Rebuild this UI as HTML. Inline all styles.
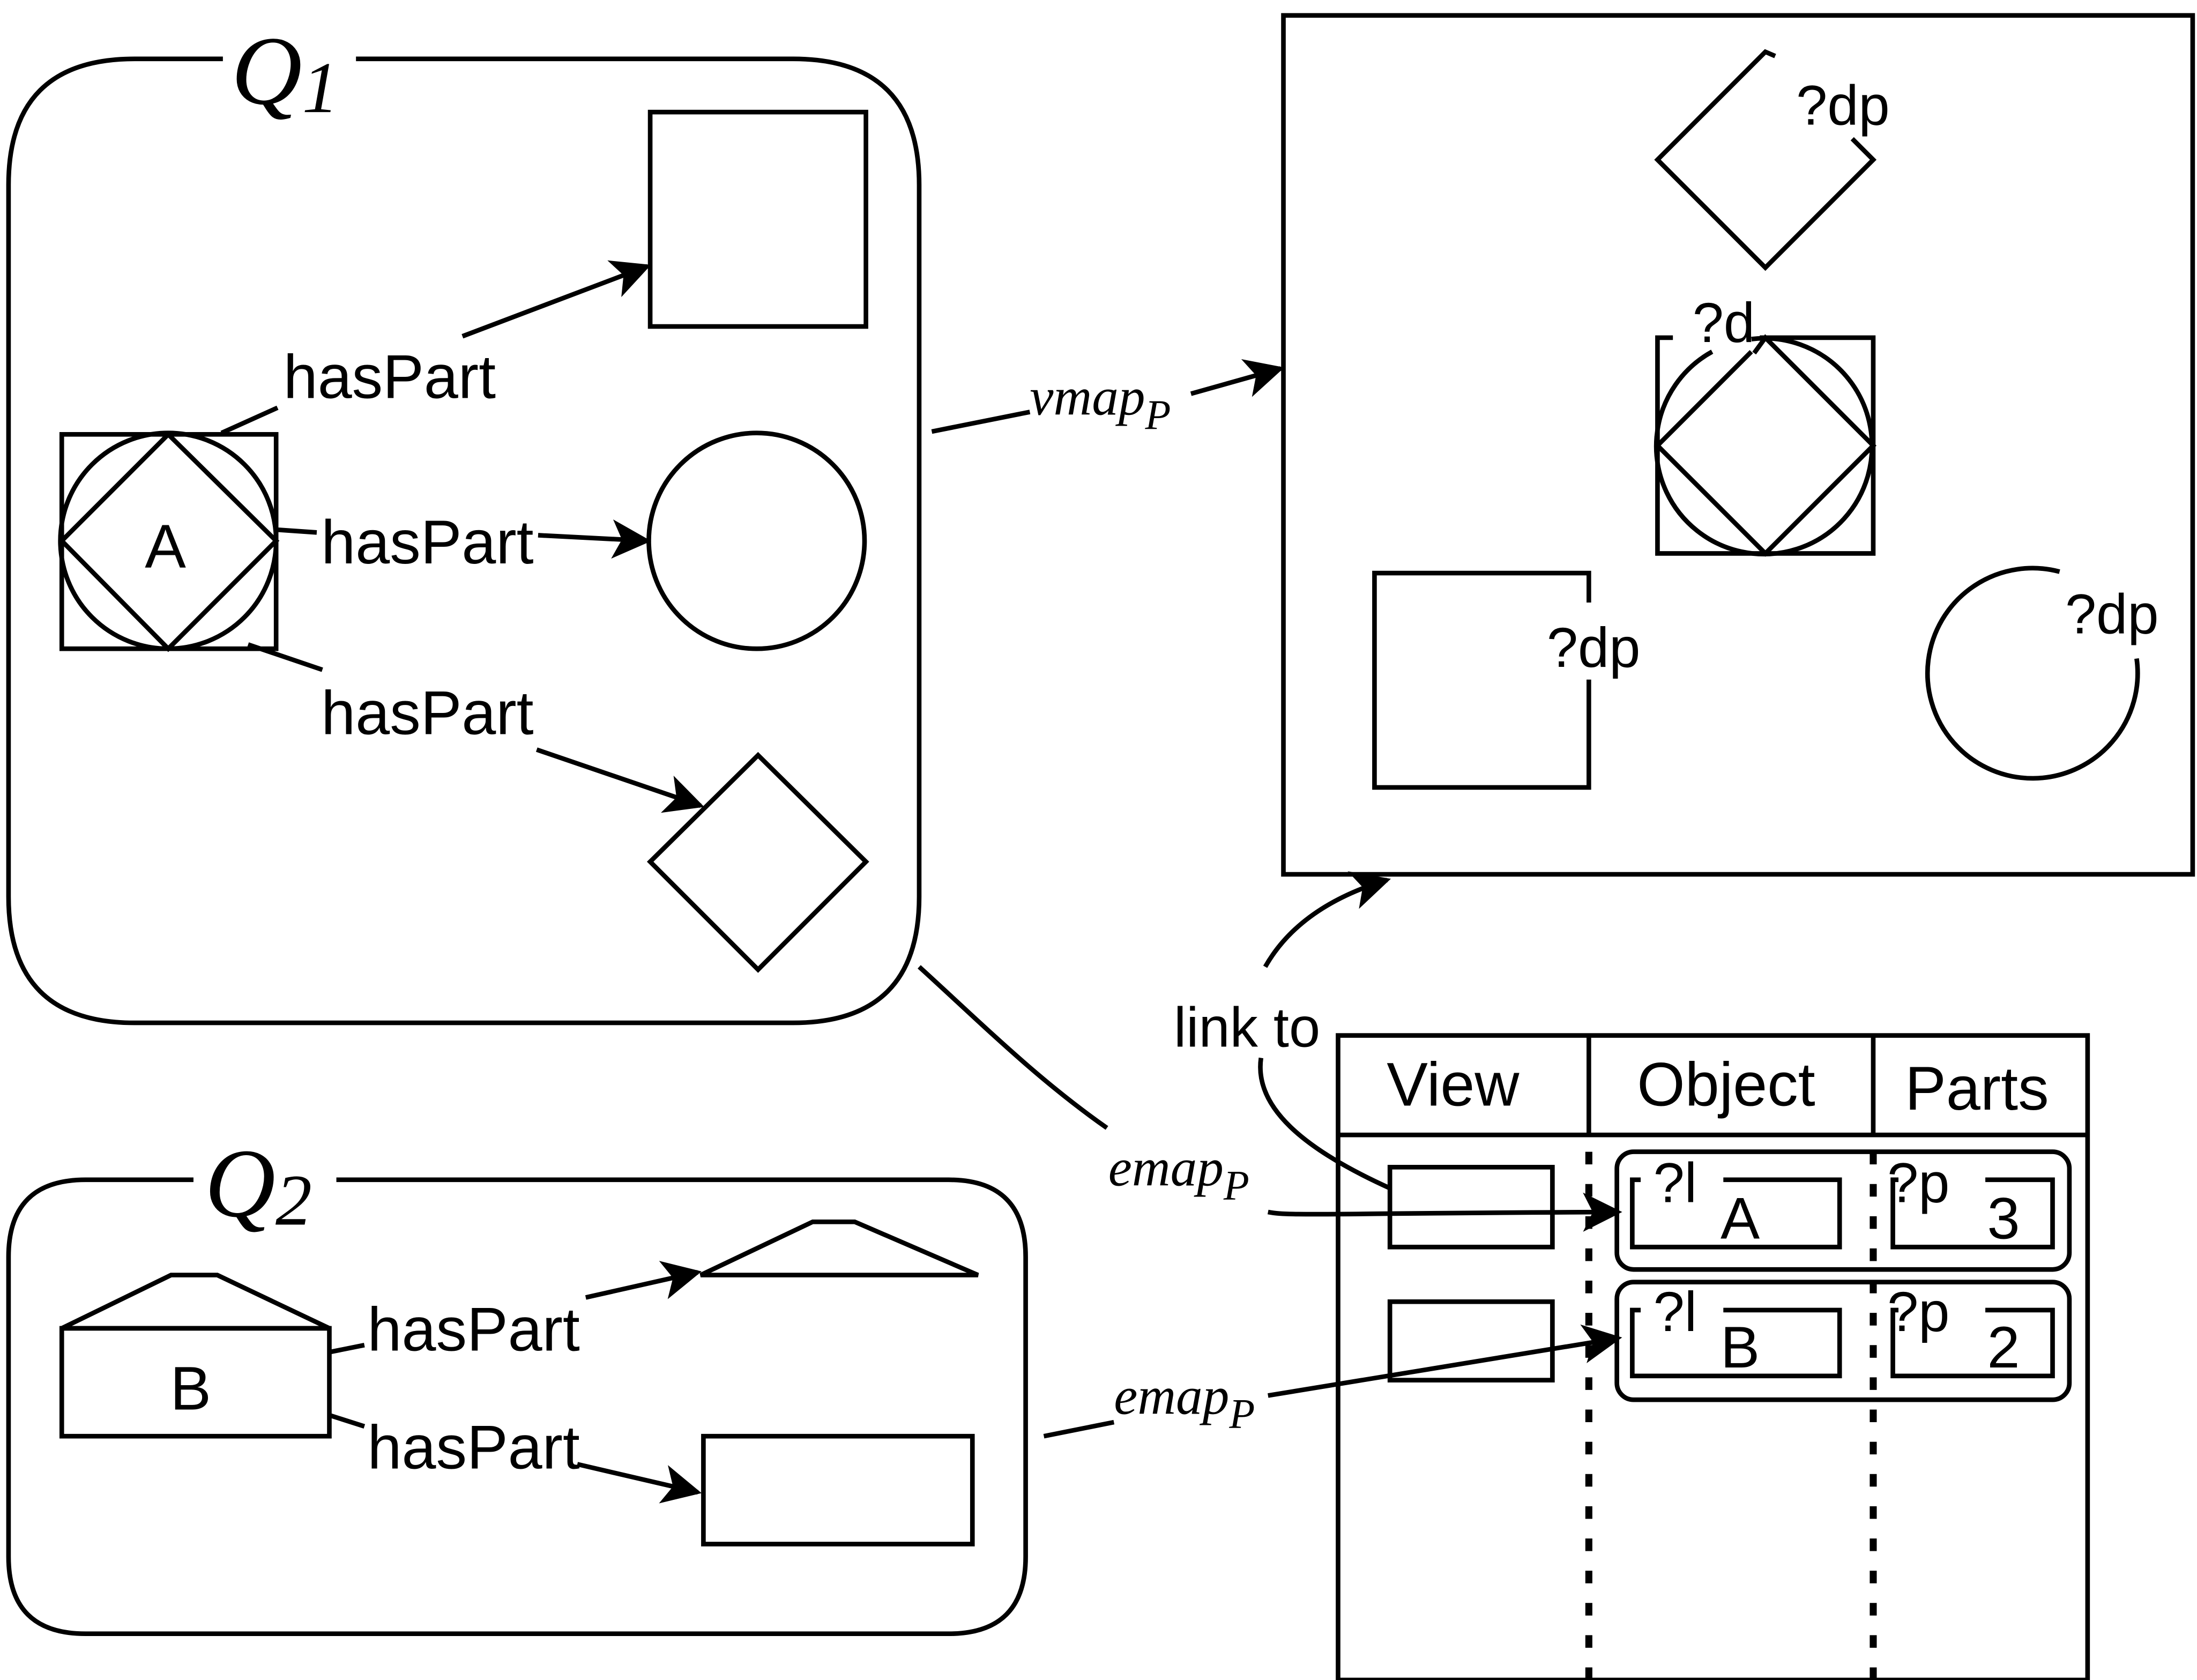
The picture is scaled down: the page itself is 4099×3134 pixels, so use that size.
<!DOCTYPE html>
<html><head><meta charset="utf-8"><style>html,body{margin:0;padding:0;background:#fff}svg{display:block}</style></head>
<body>
<svg width="4099" height="3134" viewBox="0 0 1568 1199" xmlns="http://www.w3.org/2000/svg" font-family="Liberation Sans, sans-serif">
<defs>
<marker id="ab" viewBox="0 0 10 10" refX="9" refY="5" markerWidth="28" markerHeight="28" markerUnits="userSpaceOnUse" orient="auto">
<path d="M0,0 L10,5 L0,10 L2.5,5 Z" fill="#000"/></marker>
</defs>
<g fill="none" stroke="#000" stroke-width="3.3">
<path d="M159,42 H96 Q6,42 6,132 V640 Q6,730 96,730 H566 Q656,730 656,640 V132 Q656,42 566,42 H254"/>
<rect x="464" y="80" width="154" height="153"/>
<circle cx="540" cy="386" r="77"/>
<polygon points="541,539 618,615 541,692 464,615"/>
<rect x="44" y="310" width="153" height="153"/>
<circle cx="120" cy="386" r="77"/>
<polygon points="120,310 197,386 120,463 44,386"/>
<line x1="158" y1="309" x2="198" y2="291"/>
<line x1="330" y1="240" x2="462" y2="190" marker-end="url(#ab)"/>
<line x1="197" y1="378" x2="226" y2="380"/>
<line x1="384" y1="382" x2="462" y2="386" marker-end="url(#ab)"/>
<line x1="177" y1="460" x2="230" y2="478"/>
<line x1="383" y1="535" x2="500" y2="575" marker-end="url(#ab)"/>
<line x1="665" y1="308" x2="735" y2="294"/>
<line x1="850" y1="281" x2="914" y2="263" marker-end="url(#ab)"/>
<rect x="916" y="11" width="649" height="613"/>
<polyline points="1267,40 1260,37 1183,114 1260,191 1337,114 1322,99"/>
<polyline points="1194,241 1183,241 1183,395 1337,395 1337,241 1256,241"/>
<path d="M1250,242 A77,77 0 1 1 1222,251"/>
<polyline points="1250,251 1183,318 1260,395 1337,318 1260,241 1252,252"/>
<polyline points="1134,430 1134,409 981,409 981,562 1134,562 1134,485"/>
<path d="M1470,408 A75,75 0 1 0 1525,470"/>
<path d="M992,848 C930,820 895,790 900,755"/>
<path d="M903,690 C920,660 950,640 990,628" marker-end="url(#ab)"/>
<rect x="955" y="739" width="535" height="460"/>
<line x1="955" y1="810" x2="1490" y2="810"/>
<line x1="1134" y1="739" x2="1134" y2="810"/>
<line x1="1337" y1="739" x2="1337" y2="810"/>
<line x1="1134" y1="822" x2="1134" y2="1199" stroke-width="5" stroke-dasharray="9,14"/>
<line x1="1337" y1="822" x2="1337" y2="1199" stroke-width="5" stroke-dasharray="9,14"/>
<rect x="992" y="833" width="116" height="57"/>
<rect x="992" y="929" width="116" height="56"/>
<rect x="1154" y="822" width="323" height="84" rx="12"/>
<rect x="1154" y="915" width="323" height="84" rx="12"/>
<polyline points="1171,842 1165,842 1165,890 1313,890 1313,842 1230,842"/>
<polyline points="1355,842 1351,842 1351,890 1465,890 1465,842 1417,842"/>
<polyline points="1171,935 1165,935 1165,982 1313,982 1313,935 1230,935"/>
<polyline points="1355,935 1351,935 1351,982 1465,982 1465,935 1417,935"/>
<path d="M656,690 C700,730 740,770 790,805"/>
<path d="M905,865 C920,868 940,866 1155,865" marker-end="url(#ab)"/>
<path d="M138,842 H61 Q6,842 6,897 V1111 Q6,1166 61,1166 H677 Q732,1166 732,1111 V897 Q732,842 677,842 H240"/>
<rect x="44" y="948" width="191" height="77"/>
<polygon points="44,948 122,910 155,910 235,948"/>
<polygon points="500,910 580,872 610,872 698,910"/>
<rect x="502" y="1025" width="192" height="77"/>
<line x1="235" y1="965" x2="260" y2="960"/>
<line x1="418" y1="926" x2="498" y2="908" marker-end="url(#ab)"/>
<line x1="235" y1="1010" x2="260" y2="1018"/>
<line x1="412" y1="1045" x2="498" y2="1065" marker-end="url(#ab)"/>
<line x1="745" y1="1025" x2="795" y2="1015"/>
<line x1="905" y1="996" x2="1155" y2="955" marker-end="url(#ab)"/>
</g>
<g fill="#000" font-size="44">
<text x="165" y="74" font-family="Liberation Serif, serif" font-style="italic" font-size="70">Q<tspan font-size="52" dy="6">1</tspan></text>
<text x="146" y="868" font-family="Liberation Serif, serif" font-style="italic" font-size="70">Q<tspan font-size="52" dy="6">2</tspan></text>
<text x="118" y="405" text-anchor="middle">A</text>
<text x="136" y="1006" text-anchor="middle">B</text>
<text x="278" y="284" text-anchor="middle">hasPart</text>
<text x="305" y="402" text-anchor="middle">hasPart</text>
<text x="305" y="524" text-anchor="middle">hasPart</text>
<text x="338" y="964" text-anchor="middle">hasPart</text>
<text x="338" y="1048" text-anchor="middle">hasPart</text>
<g font-family="Liberation Serif, serif" font-style="italic" font-size="38">
<text x="735" y="296">vmap<tspan font-size="30" dy="10">P</tspan></text>
<text x="791" y="846">emap<tspan font-size="30" dy="10">P</tspan></text>
<text x="795" y="1009">emap<tspan font-size="30" dy="10">P</tspan></text>
</g>
<text x="1282" y="89" font-size="40">?dp</text>
<text x="1208" y="244" font-size="40">?d</text>
<text x="1104" y="476" font-size="40">?dp</text>
<text x="1474" y="452" font-size="40">?dp</text>
<text x="890" y="747" text-anchor="middle" font-size="40">link to</text>
<text x="1037" y="789" text-anchor="middle">View</text>
<text x="1232" y="789" text-anchor="middle">Object</text>
<text x="1411" y="792" text-anchor="middle">Parts</text>
<text x="1180" y="858" font-size="40">?l</text>
<text x="1242" y="884" text-anchor="middle" font-size="42">A</text>
<text x="1347" y="858" font-size="40">?p</text>
<text x="1430" y="884" text-anchor="middle" font-size="42">3</text>
<text x="1180" y="950" font-size="40">?l</text>
<text x="1242" y="976" text-anchor="middle" font-size="42">B</text>
<text x="1347" y="950" font-size="40">?p</text>
<text x="1430" y="976" text-anchor="middle" font-size="42">2</text>
</g>
</svg>
</body></html>
